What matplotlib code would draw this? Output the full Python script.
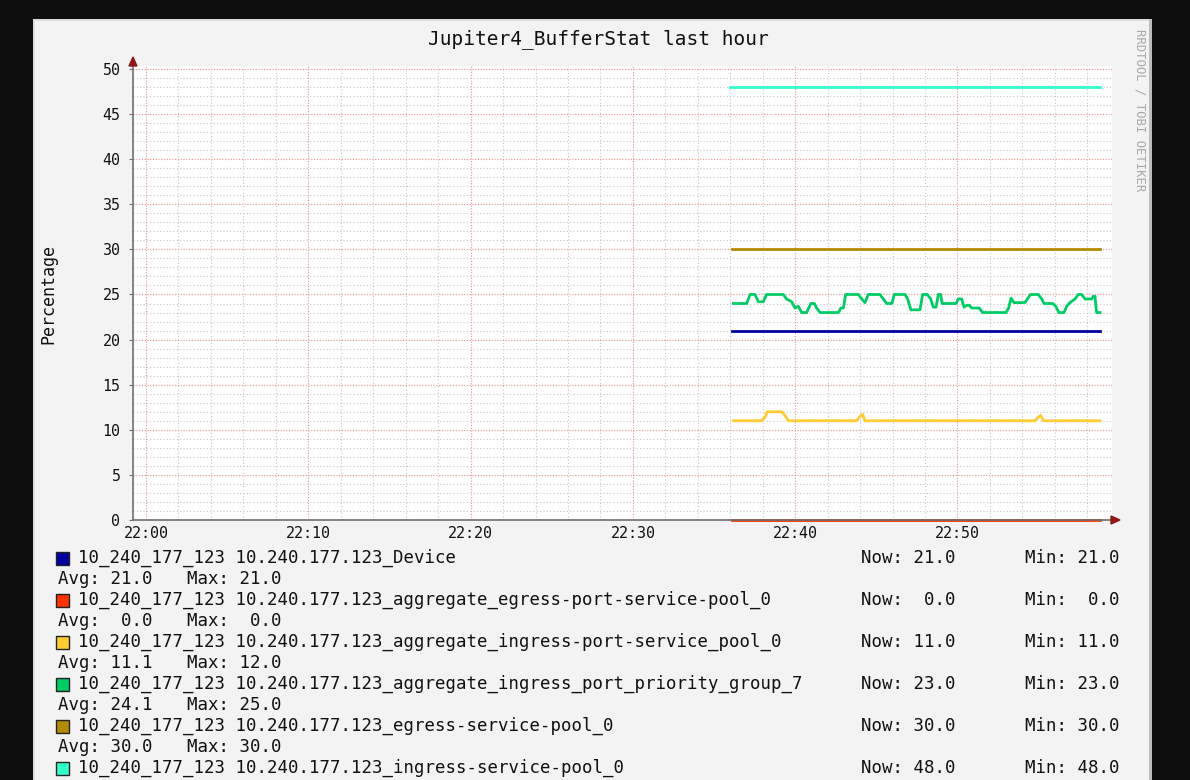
import matplotlib
matplotlib.use('Agg')
import matplotlib.pyplot as plt
from matplotlib.patches import Rectangle, Polygon

# time axis in minutes after 22:00
tick_pos = [0, 10, 20, 30, 40, 50]
tick_labels = ['22:00', '22:10', '22:20', '22:30', '22:40', '22:50']
y_ticks = [0, 5, 10, 15, 20, 25, 30, 35, 40, 45, 50]

flat_t = [36.1, 58.8]
device = [21, 21]
egress_pool = [0, 0]
egress_service = [30, 30]
ingress_service = [48, 48]

ingress_pool_t = [36.2, 37.93, 38.14, 38.28, 39.17, 39.37, 39.58, 43.79, 43.99, 44.16,
                  44.30, 54.78, 54.98, 55.12, 55.29, 58.78]
ingress_pool = [11, 11, 11.4, 12, 12, 11.6, 11, 11, 11.5, 11.7,
                11, 11, 11.4, 11.6, 11, 11]

pg7_t = [36.19, 37.01, 37.22, 37.52, 37.73, 38.03, 38.24, 39.27, 39.47, 39.78,
         39.99, 40.19, 40.40, 40.71, 40.81, 40.97, 41.18, 41.32, 41.53, 42.66,
         42.82, 42.97, 43.11, 43.89, 44.10, 44.30, 44.50, 45.22, 45.43, 45.64,
         45.95, 46.11, 46.77, 46.93, 47.13, 47.69, 47.85, 48.14, 48.35, 48.51,
         48.68, 48.82, 48.96, 49.06, 49.91, 50.05, 50.26, 50.40, 50.57, 50.73,
         50.88, 51.34, 51.55, 52.99, 53.15, 53.30, 53.48, 54.16, 54.30, 54.51,
         54.98, 55.19, 55.33, 55.87, 56.05, 56.25, 56.56, 56.73, 56.93, 57.24,
         57.44, 57.65, 57.86, 58.27, 58.37, 58.47, 58.57, 58.78]
pg7 = [24, 24, 25, 25, 24.2, 24.2, 25, 25, 24.5, 24.2,
       23.5, 23.7, 23, 23, 23.4, 24, 24, 23.5, 23, 23,
       23.5, 23.5, 25, 25, 24.5, 24.1, 25, 25, 24.5, 24,
       24, 25, 25, 24.5, 23.3, 23.3, 25, 25, 24.5, 23.6,
       23.6, 25, 25, 24, 24, 24.5, 24.5, 23.6, 23.8, 23.8,
       23.5, 23.5, 23, 23, 23.5, 24.6, 24.1, 24.1, 24.5, 25,
       25, 24.5, 24, 24, 23.7, 23, 23, 23.7, 24.1, 24.5,
       25, 25, 24.5, 24.5, 24.8, 24.8, 23, 23]

names = ['10_240_177_123 10.240.177.123_Device',
         '10_240_177_123 10.240.177.123_aggregate_egress-port-service-pool_0',
         '10_240_177_123 10.240.177.123_aggregate_ingress-port-service_pool_0',
         '10_240_177_123 10.240.177.123_aggregate_ingress_port_priority_group_7',
         '10_240_177_123 10.240.177.123_egress-service-pool_0',
         '10_240_177_123 10.240.177.123_ingress-service-pool_0']
colors = ['#0000A0', '#FF3300', '#FFCC33', '#00CC66', '#B38A00', '#33FFCC']
now_vals = [21.0, 0.0, 11.0, 23.0, 30.0, 48.0]
min_vals = [21.0, 0.0, 11.0, 23.0, 30.0, 48.0]
avg_vals = [21.0, 0.0, 11.1, 24.1, 30.0]
max_vals = [21.0, 0.0, 12.0, 25.0, 30.0]

W, H = 1190, 780
MONO = 'DejaVu Sans Mono'


def fx(x):
    return x / W


def fy(y):
    return 1 - y / H


fig = plt.figure(figsize=(11.9, 7.8), dpi=100)
fig.patch.set_facecolor('#0e0e0e')

# light panel
fig.add_artist(Rectangle((fx(33), fy(800)), fx(1152) - fx(33), fy(19) - fy(800),
                         transform=fig.transFigure, facecolor='#f3f3f3',
                         edgecolor='none', zorder=0))
fig.add_artist(Rectangle((fx(1149), fy(800)), fx(3), fy(19) - fy(800),
                         transform=fig.transFigure, facecolor='#bdbdbd',
                         edgecolor='none', zorder=0.5))
fig.add_artist(Rectangle((fx(33), fy(21)), fx(1149) - fx(33), fy(19) - fy(21),
                         transform=fig.transFigure, facecolor='#dcdcdc',
                         edgecolor='none', zorder=0.5))
fig.add_artist(Rectangle((fx(33), fy(800)), fx(2), fy(19) - fy(800),
                         transform=fig.transFigure, facecolor='#dcdcdc',
                         edgecolor='none', zorder=0.5))

ax = fig.add_axes([fx(133), fy(520), fx(1112) - fx(133), fy(66) - fy(520)])
ax.set_facecolor('white')
ax.set_xlim(-0.80, 59.52)
ax.set_ylim(0, 50.33)

ax.set_xticks(tick_pos)
ax.set_xticklabels(tick_labels)
ax.set_xticks(range(0, 60, 2), minor=True)
ax.set_yticks(y_ticks)
ax.set_yticks(range(0, 51), minor=True)
ax.grid(which='minor', color='#c8c8c8', linestyle=(0, (1, 2)), linewidth=0.8)
ax.grid(which='major', color='#f09090', linestyle=(0, (1, 1.5)), linewidth=0.8)
ax.set_axisbelow(True)

ax.tick_params(which='both', length=0)
ax.tick_params(axis='y', which='major', length=3, color='#707070', pad=6)
ax.tick_params(axis='x', pad=4)
for lab in ax.get_xticklabels() + ax.get_yticklabels():
    lab.set_fontfamily(MONO)
    lab.set_fontsize(10.8)
    lab.set_color('#111111')

for s in ['top', 'right']:
    ax.spines[s].set_visible(False)
for s in ['left', 'bottom']:
    ax.spines[s].set_color('#707070')
    ax.spines[s].set_linewidth(1.2)

lw = 2.0
ax.plot(flat_t, egress_pool, color=colors[1], lw=lw, clip_on=False, zorder=2)
ax.plot(flat_t, device, color=colors[0], lw=lw)
ax.plot(ingress_pool_t, ingress_pool, color=colors[2], lw=lw)
ax.plot(pg7_t, pg7, color=colors[3], lw=lw)
ax.plot(flat_t, egress_service, color=colors[4], lw=lw)
ax.plot([35.98, 58.8], ingress_service, color=colors[5], lw=lw)

# axis arrows
arrow_c = '#8b1a1a'
fig.add_artist(Polygon([(fx(129), fy(66)), (fx(137), fy(66)), (fx(133), fy(57))],
                       closed=True, transform=fig.transFigure, color=arrow_c, zorder=5))
fig.add_artist(Polygon([(fx(1111), fy(516)), (fx(1111), fy(524)), (fx(1120), fy(520))],
                       closed=True, transform=fig.transFigure, color=arrow_c, zorder=5))

fig.text(fx(598), fy(39), 'Jupiter4_BufferStat last hour', ha='center', va='center',
         fontsize=14, family=MONO, color='#111111')
fig.text(fx(48), fy(294), 'Percentage', ha='center', va='center', rotation=90,
         fontsize=12, family=MONO, color='#111111')
fig.text(fx(1140), fy(110), 'RRDTOOL / TOBI OETIKER', ha='center', va='center',
         rotation=270, fontsize=8.8, family=MONO, color='#a8a8a8')

# legend
for i, name in enumerate(names):
    y = 558 + 42 * i
    fig.add_artist(Rectangle((fx(56), fy(565)), fx(13), fy(552) - fy(565),
                             transform=fig.transFigure, facecolor=colors[i],
                             edgecolor='#222222', linewidth=1.0, zorder=3))
    # shift square per row
    fig.artists[-1].set_y(fy(y + 7))
    fig.text(fx(78), fy(y), name, ha='left', va='center', fontsize=12.5,
             family=MONO, color='#111111')
    fig.text(fx(861), fy(y), 'Now: %4.1f' % now_vals[i], ha='left', va='center',
             fontsize=12.5, family=MONO, color='#111111')
    fig.text(fx(1025), fy(y), 'Min: %4.1f' % min_vals[i], ha='left', va='center',
             fontsize=12.5, family=MONO, color='#111111')
    if i < len(avg_vals):
        fig.text(fx(58), fy(y + 21), 'Avg: %4.1f' % avg_vals[i], ha='left', va='center',
                 fontsize=12.5, family=MONO, color='#111111')
        fig.text(fx(187), fy(y + 21), 'Max: %4.1f' % max_vals[i], ha='left', va='center',
                 fontsize=12.5, family=MONO, color='#111111')

fig.savefig('out.png', dpi=100, facecolor=fig.get_facecolor())
